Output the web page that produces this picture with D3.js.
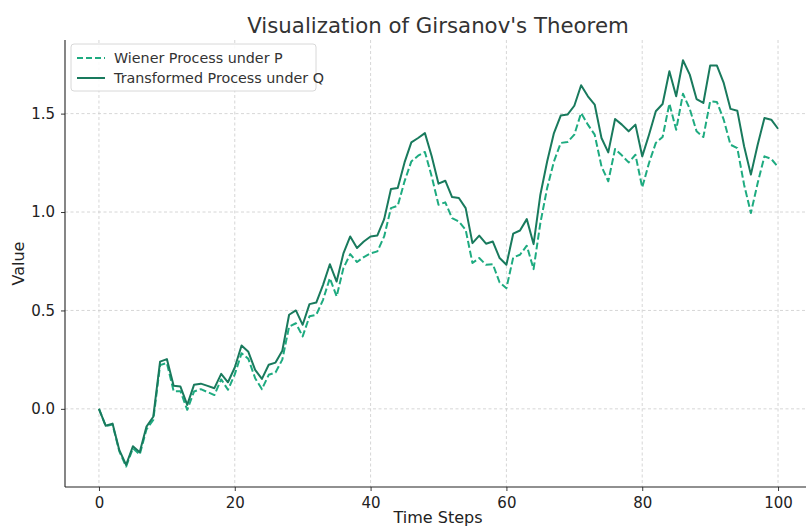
<!DOCTYPE html>
<html>
<head>
<meta charset="utf-8">
<script src="https://cdn.jsdelivr.net/npm/d3@7"></script>
<style>
  html, body { margin: 0; padding: 0; background: #fff; }
  svg { display: block; font-family: "DejaVu Sans", sans-serif; }
</style>
</head>
<body>
<svg id="chart" width="806" height="527"></svg>
<script>
const titleText = "Visualization of Girsanov's Theorem";
const xLabel = "Time Steps";
const yLabel = "Value";
const seriesNames = ["Wiener Process under P", "Transformed Process under Q"];
const xTicks = [0, 20, 40, 60, 80, 100];
const yTicks = [0.0, 0.5, 1.0, 1.5];

const wienerP = [
  0.000, -0.088, -0.079, -0.216, -0.293, -0.200, -0.232, -0.104, -0.056, 0.222,
  0.233, 0.090, 0.090, -0.005, 0.088, 0.100, 0.085, 0.070, 0.150, 0.097,
  0.175, 0.283, 0.254, 0.156, 0.100, 0.173, 0.185, 0.250, 0.418, 0.435,
  0.368, 0.470, 0.478, 0.554, 0.664, 0.571, 0.715, 0.786, 0.746, 0.771,
  0.790, 0.800, 0.876, 1.020, 1.032, 1.156, 1.257, 1.286, 1.305, 1.181,
  1.037, 1.049, 0.969, 0.952, 0.910, 0.741, 0.766, 0.732, 0.735, 0.642,
  0.613, 0.769, 0.783, 0.829, 0.710, 0.944, 1.122, 1.257, 1.351, 1.356,
  1.393, 1.503, 1.444, 1.393, 1.232, 1.156, 1.320, 1.288, 1.252, 1.291,
  1.125, 1.249, 1.351, 1.381, 1.551, 1.418, 1.601, 1.524, 1.410, 1.381,
  1.562, 1.559, 1.469, 1.342, 1.325, 1.139, 0.995, 1.147, 1.283, 1.270,
  1.229
];
const transformedQ = [
  0.000, -0.086, -0.075, -0.210, -0.285, -0.190, -0.220, -0.090, -0.040, 0.240,
  0.253, 0.117, 0.113, 0.020, 0.122, 0.128, 0.117, 0.105, 0.178, 0.135,
  0.210, 0.322, 0.290, 0.198, 0.152, 0.224, 0.235, 0.295, 0.478, 0.500,
  0.427, 0.532, 0.540, 0.630, 0.735, 0.647, 0.790, 0.876, 0.817, 0.850,
  0.876, 0.881, 0.964, 1.117, 1.122, 1.252, 1.354, 1.376, 1.401, 1.283,
  1.144, 1.159, 1.076, 1.071, 1.020, 0.842, 0.880, 0.839, 0.850, 0.766,
  0.732, 0.890, 0.906, 0.964, 0.837, 1.088, 1.257, 1.401, 1.490, 1.495,
  1.540, 1.644, 1.588, 1.546, 1.376, 1.303, 1.473, 1.444, 1.410, 1.444,
  1.283, 1.393, 1.512, 1.549, 1.715, 1.588, 1.771, 1.698, 1.574, 1.554,
  1.744, 1.744, 1.656, 1.524, 1.515, 1.334, 1.190, 1.342, 1.478, 1.469,
  1.423
];
const steps = wienerP.map((_, i) => i);

const colorP = "#1eab80";
const colorQ = "#197a5d";

const svg = d3.select("#chart");
const margin = { left: 65, right: -6, top: 40, bottom: 40 };
const W = 806, H = 527;

const x = d3.scaleLinear().domain([-5, 105]).range([margin.left, W - margin.right]);
const y = d3.scaleLinear().domain([-0.397, 1.874]).range([H - margin.bottom, margin.top]);

const gridColor = "#cccccc";
svg.append("g").selectAll("line").data(xTicks).join("line")
  .attr("x1", d => x(d)).attr("x2", d => x(d))
  .attr("y1", margin.top).attr("y2", H - margin.bottom)
  .attr("stroke", gridColor).attr("stroke-width", 0.8).attr("stroke-dasharray", "3,2.5");
svg.append("g").selectAll("line").data(yTicks).join("line")
  .attr("x1", margin.left).attr("x2", W)
  .attr("y1", d => y(d)).attr("y2", d => y(d))
  .attr("stroke", gridColor).attr("stroke-width", 0.8).attr("stroke-dasharray", "3,2.5");

const xAxis = svg.append("g")
  .attr("transform", `translate(0,${H - margin.bottom})`)
  .call(d3.axisBottom(x).tickValues(xTicks).tickFormat(d3.format("d")).tickSizeOuter(0).tickSize(4).tickPadding(6));
const yAxis = svg.append("g")
  .attr("transform", `translate(${margin.left},0)`)
  .call(d3.axisLeft(y).tickValues(yTicks).tickFormat(d3.format(".1f")).tickSizeOuter(0).tickSize(4).tickPadding(6));
[xAxis, yAxis].forEach(a => {
  a.selectAll("text").attr("font-size", 15).attr("fill", "#222").attr("font-family", "DejaVu Sans, sans-serif");
  a.selectAll(".tick line").attr("stroke", "#222").attr("stroke-width", 0.9);
  a.select(".domain").remove();
});
// spines
svg.append("line").attr("x1", margin.left).attr("x2", margin.left)
  .attr("y1", margin.top).attr("y2", H - margin.bottom).attr("stroke", "#222").attr("stroke-width", 1.1);
svg.append("line").attr("x1", margin.left).attr("x2", W)
  .attr("y1", H - margin.bottom).attr("y2", H - margin.bottom).attr("stroke", "#222").attr("stroke-width", 1.1);

const line = d3.line().x((d, i) => x(steps[i])).y(d => y(d));
svg.append("path").datum(wienerP)
  .attr("d", line).attr("fill", "none").attr("stroke", colorP)
  .attr("stroke-width", 2).attr("stroke-dasharray", "7,3").attr("stroke-linejoin", "round");
svg.append("path").datum(transformedQ)
  .attr("d", line).attr("fill", "none").attr("stroke", colorQ)
  .attr("stroke-width", 2).attr("stroke-linejoin", "round");

svg.append("text").attr("x", 438).attr("y", 33).attr("text-anchor", "middle")
  .attr("font-size", 21.3).attr("fill", "#333").text(titleText);
svg.append("text").attr("x", 438).attr("y", 523).attr("text-anchor", "middle")
  .attr("font-size", 16).attr("fill", "#222").text(xLabel);
svg.append("text").attr("transform", `translate(24,${(margin.top + H - margin.bottom) / 2}) rotate(-90)`)
  .attr("text-anchor", "middle").attr("font-size", 16).attr("fill", "#222").text(yLabel);

const lg = svg.append("g").attr("transform", "translate(71,44)");
lg.append("rect").attr("width", 245).attr("height", 47).attr("rx", 3)
  .attr("fill", "#fff").attr("fill-opacity", 0.85).attr("stroke", "#d8d8d8");
const entries = [
  { name: seriesNames[0], color: colorP, dash: "6,3" },
  { name: seriesNames[1], color: colorQ, dash: null }
];
entries.forEach((e, i) => {
  const yy = 14 + i * 20;
  lg.append("line").attr("x1", 6).attr("x2", 34).attr("y1", yy).attr("y2", yy)
    .attr("stroke", e.color).attr("stroke-width", 2).attr("stroke-dasharray", e.dash);
  lg.append("text").attr("x", 43).attr("y", yy + 5).attr("font-size", 14.3).attr("fill", "#333").text(e.name);
});
</script>
</body>
</html>
